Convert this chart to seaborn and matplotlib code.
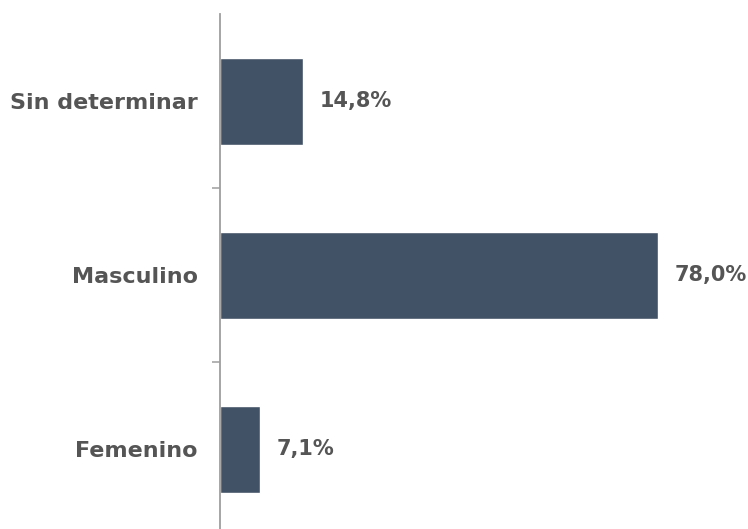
import numpy as np
import pandas as pd
import seaborn as sns
import matplotlib.pyplot as plt
from matplotlib.ticker import FixedLocator

# == Data == #
categories = ['Sin determinar', 'Masculino', 'Femenino']
percent = [14.8, 78.0, 7.1]

BAR_COLOR = '#425266'
TEXT_COLOR = '#555555'
AXIS_COLOR = '#9e9e9e'

df = pd.DataFrame({'Sexo': categories, 'Porcentaje': percent})

sns.set_style('white')
plt.rcParams['font.family'] = ['DejaVu Sans']

fig = plt.figure(figsize=(7.48, 5.29), dpi=100)
ax = fig.add_axes([220 / 748, -7 / 529, 528 / 748, 522 / 529])

sns.barplot(data=df, x='Porcentaje', y='Sexo', order=categories,
            color=BAR_COLOR, width=0.5, saturation=1, ax=ax)

ax.set_xlim(0, 94)
ax.set_xlabel('')
ax.set_ylabel('')
ax.set_xticks([])

# -- label each bar with comma decimal
labels = [f'{v:.1f}%'.replace('.', ',') for v in percent]
ax.bar_label(ax.containers[0], labels=labels, padding=12,
             fontsize=15, fontweight='bold', color=TEXT_COLOR)

# -- spines / ticks
for side in ['top', 'right', 'bottom']:
    ax.spines[side].set_visible(False)
ax.spines['left'].set_color(AXIS_COLOR)
ax.spines['left'].set_linewidth(1.3)

ax.tick_params(axis='y', which='major', left=False, length=0, pad=16,
               labelsize=16, labelcolor=TEXT_COLOR)
for t in ax.get_yticklabels():
    t.set_fontweight('bold')
ax.yaxis.set_minor_locator(FixedLocator([0.5, 1.5]))
ax.tick_params(axis='y', which='minor', left=True, length=6, width=1.1,
               color=AXIS_COLOR)

fig.savefig('out.png', dpi=100)
